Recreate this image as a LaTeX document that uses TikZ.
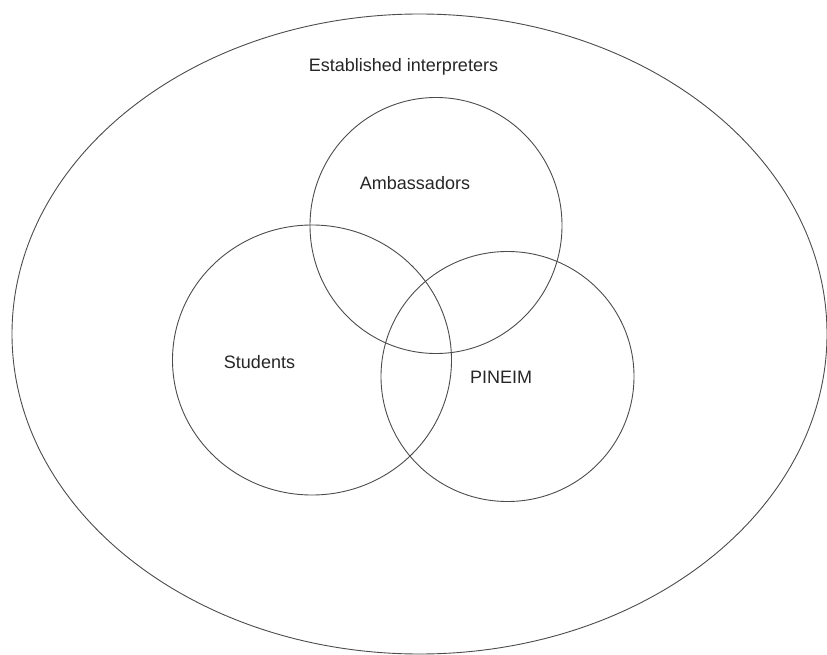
\documentclass[tikz,border=0pt]{standalone}
\usepackage{fontspec}
\setmainfont{Liberation Sans}
\usetikzlibrary{shapes.geometric}
\begin{document}
\begin{tikzpicture}[x=1pt,y=-1pt,
  setline/.style={draw=black!70, line width=0.9pt},
  setlabel/.style={font=\fontsize{18}{20}\selectfont, text=black!85, inner sep=0pt}]
\useasboundingbox (0,0) rectangle (827,655);
% outer population
\draw[setline] (419.5,334) ellipse [x radius=407.5, y radius=320];
% three overlapping groups
\draw[setline] (436,225.5) ellipse [x radius=126, y radius=128];
\draw[setline] (312,360) ellipse [x radius=139.5, y radius=135];
\draw[setline] (507.5,376.5) ellipse [x radius=126.5, y radius=125];
% labels
\node[setlabel] (est) at (403.5,67) {Established interpreters};
\node[setlabel] (amb) at (415,183) {Ambassadors};
\node[setlabel] (stu) at (259.5,362) {Students};
\node[setlabel] (pin) at (501,377) {PINEIM};
\end{tikzpicture}
\end{document}
